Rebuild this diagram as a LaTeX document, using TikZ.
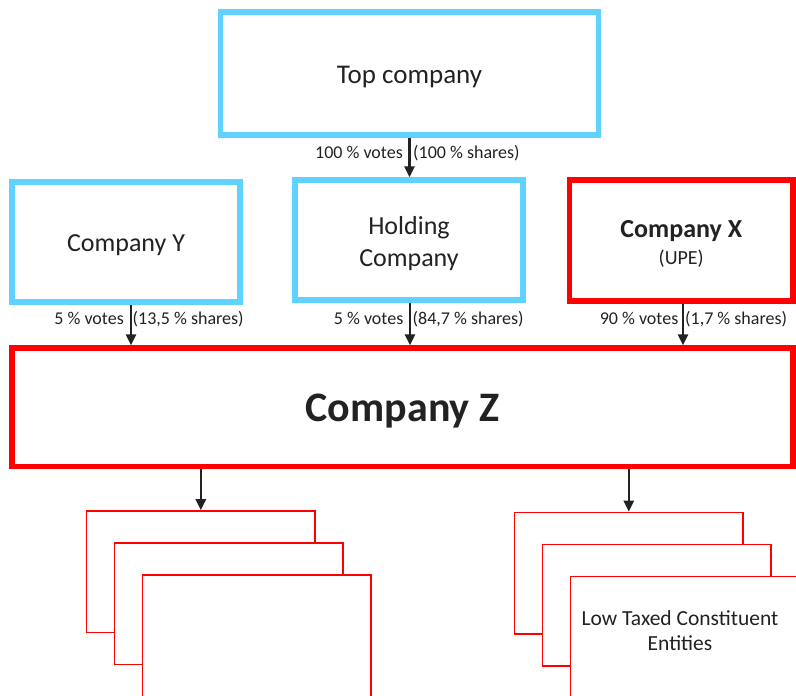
\documentclass[tikz,border=0pt]{standalone}
\usepackage{fontspec}
\setmainfont{Carlito}
\usetikzlibrary{arrows.meta}
\definecolor{boxblue}{RGB}{95,210,255}
\definecolor{boxred}{RGB}{255,0,0}
\definecolor{txt}{RGB}{34,34,34}
\begin{document}
\begin{tikzpicture}[x=1pt,y=-1pt,
  bigbox/.style={line width=5.5pt, fill=white, inner sep=0pt},
  bluebox/.style={bigbox, draw=boxblue},
  redbox/.style={bigbox, draw=boxred},
  boxlbl/.style={text=txt, align=center, inner sep=0pt, yshift=-3.5pt, font=\fontsize{26}{32}\selectfont},
  stackbox/.style={draw=boxred, line width=1.7pt, fill=white, minimum width=228.5pt, minimum height=121.5pt, inner sep=0pt},
  link/.style={draw=txt, line width=2.5pt, -{Triangle[length=11pt,width=10pt]}},
  pct/.style={text=txt, font=\fontsize{18}{22}\selectfont, inner sep=0pt}
]
\useasboundingbox (0,0) rectangle (796,696);

% main boxes
\node[bluebox, minimum width=378pt, minimum height=123pt,
  label={[boxlbl, font=\fontsize{27}{32}\selectfont]center:{Top company}}] (top) at (409.5,73.5) {};
\node[bluebox, minimum width=228pt, minimum height=120pt,
  label={[boxlbl]center:{Company Y}}] (cy) at (126,242) {};
\node[bluebox, minimum width=228pt, minimum height=120pt,
  label={[boxlbl]center:{Holding\\Company}}] (hold) at (409,240) {};
\node[redbox, minimum width=223.5pt, minimum height=121pt,
  label={[boxlbl]center:{\textbf{Company X}\\[-5pt]{\fontsize{20}{24}\selectfont (UPE)}}}] (cx) at (681.25,240.5) {};
\node[redbox, minimum width=781pt, minimum height=118.5pt,
  label={[boxlbl, font=\fontsize{42}{50}\selectfont\bfseries]center:{Company Z}}] (cz) at (402.5,407.25) {};

% stacked boxes, left
\node[stackbox] (l1) at (200.8,571.8) {};
\node[stackbox] (l2) at (228.8,603.8) {};
\node[stackbox] (l3) at (256.8,635.8) {};
% stacked boxes, right
\node[stackbox] (r1) at (628.8,573.3) {};
\node[stackbox] (r2) at (656.8,605.3) {};
\node[stackbox] (r3) at (684.8,637.3) {};
\node[text=txt, align=center, inner sep=0pt, font=\fontsize{21.5}{25}\selectfont] (lowtxt) at (680,631) {Low Taxed Constituent\\Entities};

% connectors
\draw[link] (top.south) -- (top.south |- hold.north);
\draw[link] ([xshift=5pt]cy.south) -- ([xshift=5pt]cy.south |- cz.north);
\draw[link] ([xshift=1pt]hold.south) -- ([xshift=1pt]hold.south |- cz.north);
\draw[link] ([xshift=1.75pt]cx.south) -- ([xshift=1.75pt]cx.south |- cz.north);
\draw[link] (cz.south -| l1.north) -- (l1.north);
\draw[link] (cz.south -| r1.north) -- (r1.north);

% labels
\node[pct, anchor=base east] (tv) at (403,158.5) {100 \% votes};
\node[pct, anchor=base west] (ts) at (413,158.5) {(100 \% shares)};
\node[pct, anchor=base east] (yv) at (124,324) {5 \% votes};
\node[pct, anchor=base west] (ys) at (132.5,324) {(13,5 \% shares)};
\node[pct, anchor=base east] (hv) at (403.5,324) {5 \% votes};
\node[pct, anchor=base west] (hs) at (412.5,324) {(84,7 \% shares)};
\node[pct, anchor=base east] (xv) at (678.5,324) {90 \% votes};
\node[pct, anchor=base west] (xs) at (685,324) {(1,7 \% shares)};
\end{tikzpicture}
\end{document}
